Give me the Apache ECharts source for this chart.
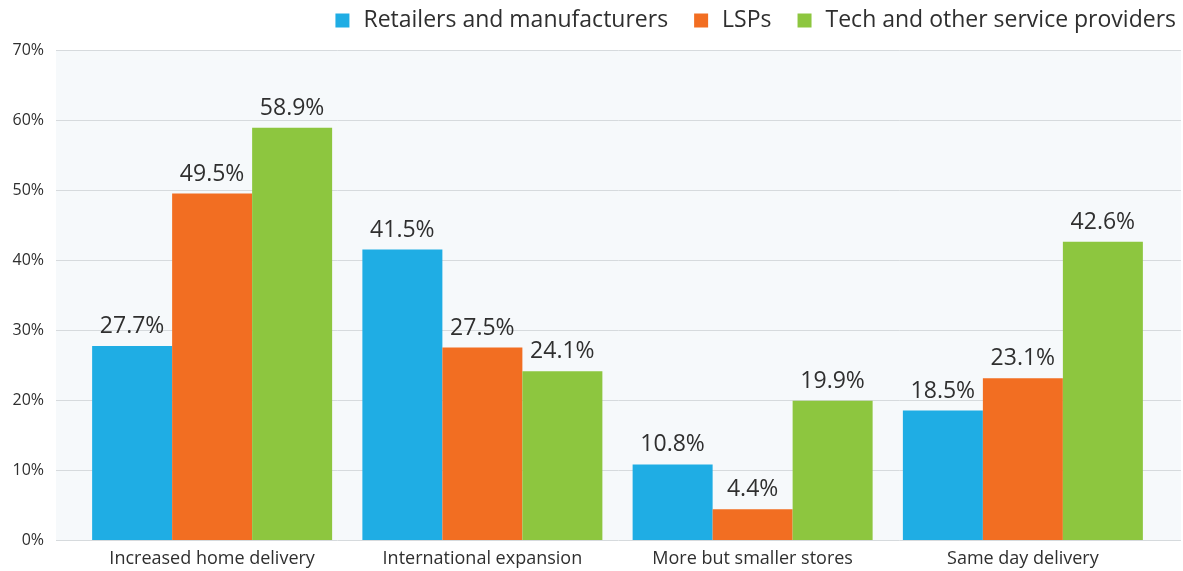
<!DOCTYPE html>
<html>
<head>
<meta charset="utf-8">
<script src="https://cdn.jsdelivr.net/npm/echarts@6/dist/echarts.min.js"></script>
<style>
html,body{margin:0;padding:0;background:#fff;}
#c{width:1183px;height:571px;}
</style>
</head>
<body>
<div id="c"></div>
<script>
const categories = ['Increased home delivery', 'International expansion', 'More but smaller stores', 'Same day delivery'];
const seriesNames = ['Retailers and manufacturers', 'LSPs', 'Tech and other service providers'];
const retailers = [27.7, 41.5, 10.8, 18.5];
const lsps = [49.5, 27.5, 4.4, 23.1];
const tech = [58.9, 24.1, 19.9, 42.6];
const colors = ['#1fade4', '#f26e22', '#8dc63f'];

const FONT = '"Open Sans", "Noto Sans", sans-serif';
const chart = echarts.init(document.getElementById('c'), null, {renderer: 'canvas'});

function bar(name, data, color) {
  return {
    name: name, type: 'bar', data: data, xAxisIndex: 1, yAxisIndex: 1,
    barWidth: 80, barGap: '0%',
    itemStyle: {color: color},
    label: {
      show: true, position: 'top', distance: 8,
      formatter: p => p.value.toFixed(1) + '%',
      fontFamily: FONT, fontSize: 23, color: '#2f2f2f'
    }
  };
}

chart.setOption({
  animation: false,
  textStyle: {fontFamily: FONT},
  legend: {
    right: 2, top: 4, itemWidth: 14, itemHeight: 14, itemGap: 26,
    icon: 'rect',
    textStyle: {fontFamily: FONT, fontSize: 23, color: '#2f2f2f', padding: [0, 0, 0, 9]},
    data: seriesNames
  },
  grid: [
    {left: 56, right: 2, top: 50, bottom: 31, show: true, backgroundColor: '#f6f9fb', borderWidth: 0},
    {left: 77, right: 25, top: 50, bottom: 31}
  ],
  xAxis: [
    {type: 'category', gridIndex: 0, data: categories, show: false},
    {
      type: 'category', gridIndex: 1, data: categories,
      axisLine: {show: false}, axisTick: {show: false},
      axisLabel: {fontFamily: FONT, fontSize: 18, color: '#2f2f2f', margin: 10}
    }
  ],
  yAxis: [
    {
      type: 'value', gridIndex: 0, min: 0, max: 70, interval: 10,
      axisLine: {show: false}, axisTick: {show: false},
      axisLabel: {formatter: '{value}%', fontFamily: FONT, fontSize: 16, color: '#2f2f2f', margin: 12},
      splitLine: {lineStyle: {color: '#d6dadd', width: 1}}
    },
    {type: 'value', gridIndex: 1, min: 0, max: 70, interval: 10, show: false, splitLine: {show: false}}
  ],
  series: [
    bar(seriesNames[0], retailers, colors[0]),
    bar(seriesNames[1], lsps, colors[1]),
    bar(seriesNames[2], tech, colors[2])
  ]
});
</script>
</body>
</html>
